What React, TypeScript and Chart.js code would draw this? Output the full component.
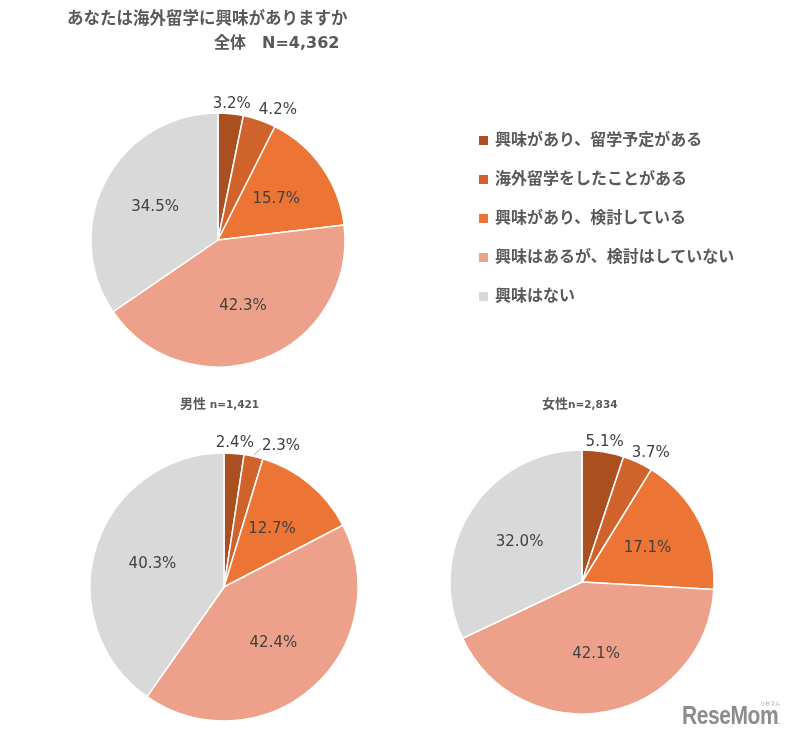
import React, { useEffect, useRef } from "react";
import { Chart, registerables } from "chart.js";

Chart.register(...registerables);

const categories = [
  "興味があり、留学予定がある",
  "海外留学をしたことがある",
  "興味があり、検討している",
  "興味はあるが、検討はしていない",
  "興味はない",
];
const totalValues = [3.2, 4.2, 15.7, 42.3, 34.5];
const maleValues = [2.4, 2.3, 12.7, 42.4, 40.3];
const femaleValues = [5.1, 3.7, 17.1, 42.1, 32.0];
const colors = ["#AA5020", "#D0632B", "#EC7434", "#EEA18A", "#D9D9D9"];

const W = 793;
const H = 739;

const LABEL_FONT = '15px "DejaVu Sans", sans-serif';
const JP_FONT = '"DejaVu Sans", "Noto Sans CJK JP", sans-serif';

const labelPlugin = {
  id: "pieLabels",
  afterDatasetsDraw(chart: any) {
    const ctx = chart.ctx;
    const meta = chart.getDatasetMeta(0);
    const data = chart.data.datasets[0].data as number[];
    ctx.save();
    ctx.font = LABEL_FONT;
    ctx.fillStyle = "#404040";
    ctx.textAlign = "center";
    ctx.textBaseline = "middle";
    let prev: { left: number; right: number; y: number } | null = null;
    meta.data.forEach((arc: any, i: number) => {
      const p = arc.getProps(["x", "y", "startAngle", "endAngle", "outerRadius"], true);
      const mid = (p.startAngle + p.endAngle) / 2;
      const r = p.outerRadius;
      const text = data[i].toFixed(1) + "%";
      const w = ctx.measureText(text).width;
      if (data[i] >= 10) {
        const rr = r * 0.56;
        ctx.fillText(text, p.x + Math.cos(mid) * rr, p.y + Math.sin(mid) * rr);
      } else {
        const rr = r + 10;
        let cx = p.x + Math.cos(mid) * rr;
        const cy = p.y + Math.sin(mid) * rr;
        let left = cx - w / 2;
        const natural = cx;
        if (prev && Math.abs(prev.y - cy) < 16 && left < prev.right + 8) {
          left = prev.right + 8;
          cx = left + w / 2;
        }
        if (cx - natural > 20) {
          const ex = p.x + Math.cos(mid) * (r + 1);
          const ey = p.y + Math.sin(mid) * (r + 1);
          ctx.strokeStyle = "#A6A6A6";
          ctx.lineWidth = 1;
          ctx.beginPath();
          ctx.moveTo(ex, ey);
          ctx.lineTo(left - 1, cy + 2);
          ctx.stroke();
        }
        ctx.fillText(text, cx, cy);
        prev = { left, right: left + w, y: cy };
      }
    });
    ctx.restore();
  },
};

function PieCanvas({ values, cx, cy, radius }: { values: number[]; cx: number; cy: number; radius: number }) {
  const ref = useRef<HTMLCanvasElement>(null);
  useEffect(() => {
    const halfW = Math.min(cx, W - cx);
    const halfH = Math.min(cy, H - cy);
    const padding = {
      left: cx - halfW,
      right: W - (cx + halfW),
      top: cy - halfH,
      bottom: H - (cy + halfH),
    };
    const chart = new Chart(ref.current as HTMLCanvasElement, {
      type: "pie",
      data: {
        labels: categories,
        datasets: [
          {
            data: values,
            backgroundColor: colors,
            borderColor: "#FFFFFF",
            borderWidth: 1.5,
          },
        ],
      },
      options: {
        responsive: false,
        animation: false,
        radius: radius,
        layout: { padding },
        plugins: { legend: { display: false }, tooltip: { enabled: false } },
      } as any,
      plugins: [labelPlugin],
    });
    return () => chart.destroy();
  }, []);
  return (
    <canvas
      ref={ref}
      width={W}
      height={H}
      style={{ position: "absolute", left: 0, top: 0, width: W, height: H }}
    />
  );
}

export default function App() {
  const textColor = "#595959";
  return (
    <div
      style={{
        position: "absolute",
        left: 0,
        top: 0,
        width: W,
        height: H,
        overflow: "hidden",
        background: "#FFFFFF",
      }}
    >
      <PieCanvas values={totalValues} cx={218} cy={240} radius={127} />
      <PieCanvas values={maleValues} cx={224} cy={587} radius={134} />
      <PieCanvas values={femaleValues} cx={582} cy={582} radius={132} />

      <div
        style={{
          position: "absolute",
          left: 67,
          top: 6,
          fontFamily: '"Noto Sans CJK JP", sans-serif',
          fontWeight: "bold",
          fontSize: 16.5,
          color: textColor,
          lineHeight: "22px",
          whiteSpace: "nowrap",
        }}
      >
        あなたは海外留学に興味がありますか
      </div>
      <div
        style={{
          position: "absolute",
          left: 214,
          top: 32,
          fontFamily: JP_FONT,
          fontWeight: "bold",
          fontSize: 16,
          color: textColor,
          lineHeight: "22px",
          whiteSpace: "nowrap",
        }}
      >
        全体<span style={{ display: "inline-block", width: 16 }} />N=4,362
      </div>

      <div
        style={{
          position: "absolute",
          left: 180,
          top: 394,
          fontFamily: JP_FONT,
          fontWeight: "bold",
          color: textColor,
          whiteSpace: "nowrap",
          lineHeight: "18px",
        }}
      >
        <span style={{ fontSize: 13 }}>男性</span>
        <span style={{ fontSize: 10.5 }}> n=1,421</span>
      </div>
      <div
        style={{
          position: "absolute",
          left: 542,
          top: 394,
          fontFamily: JP_FONT,
          fontWeight: "bold",
          color: textColor,
          whiteSpace: "nowrap",
          lineHeight: "18px",
        }}
      >
        <span style={{ fontSize: 13 }}>女性</span>
        <span style={{ fontSize: 10.5 }}>n=2,834</span>
      </div>

      {categories.map((c, i) => (
        <div
          key={c}
          style={{
            position: "absolute",
            left: 479,
            top: 126 + i * 39,
            height: 24,
            display: "flex",
            alignItems: "center",
            whiteSpace: "nowrap",
          }}
        >
          <span
            style={{
              display: "inline-block",
              width: 9,
              height: 9,
              background: colors[i],
              marginTop: 4,
              marginRight: 7,
            }}
          />
          <span
            style={{
              fontFamily: '"Noto Sans CJK JP", sans-serif',
              fontWeight: "bold",
              fontSize: 16,
              color: textColor,
              lineHeight: "24px",
            }}
          >
            {c}
          </span>
        </div>
      ))}

      <div
        style={{
          position: "absolute",
          left: 682,
          top: 700,
          fontFamily: '"Liberation Sans", Arial, sans-serif',
          fontWeight: "bold",
          fontSize: 25,
          color: "#8C8C8C",
          transform: "scaleX(0.84)",
          transformOrigin: "left top",
          whiteSpace: "nowrap",
          lineHeight: "30px",
          letterSpacing: -0.5,
        }}
      >
        ReseMom<span style={{ fontSize: 8 }}>.</span>
      </div>
      <div
        style={{
          position: "absolute",
          left: 760,
          top: 699,
          fontFamily: '"Noto Sans CJK JP", sans-serif',
          fontSize: 5,
          color: "#8C8C8C",
          whiteSpace: "nowrap",
        }}
      >
        リセマム
      </div>
    </div>
  );
}
